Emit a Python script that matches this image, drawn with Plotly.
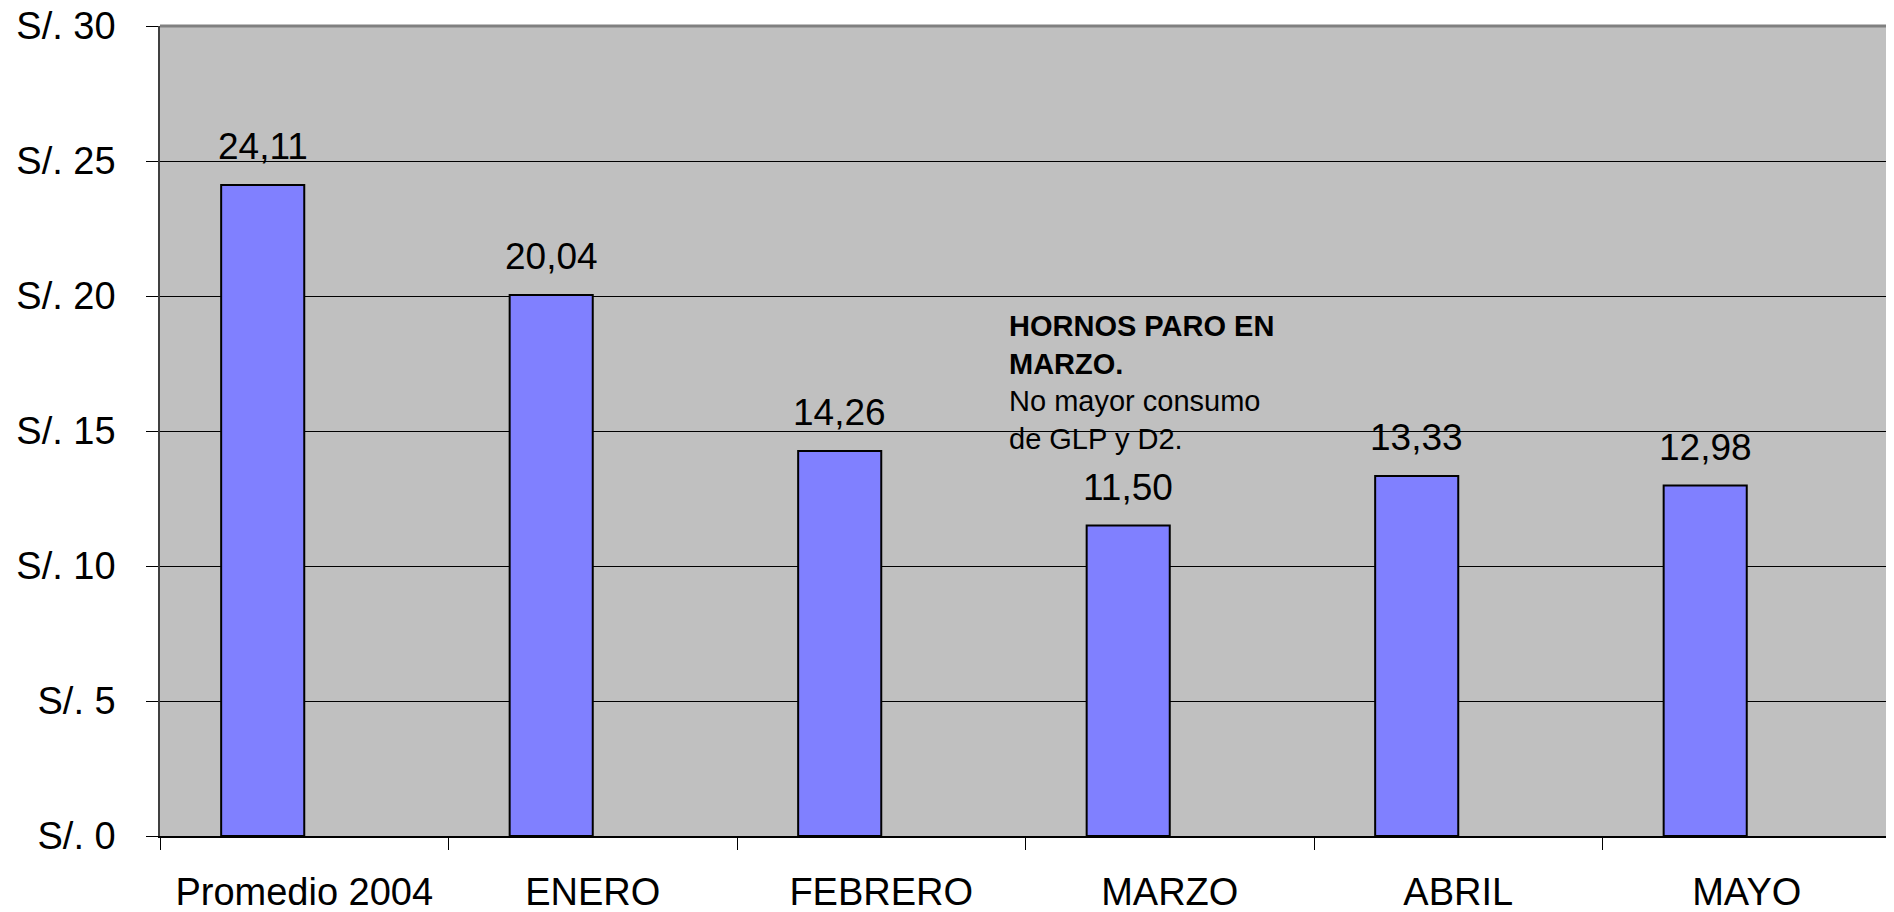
import plotly.graph_objects as go

categories = ["Promedio 2004", "ENERO", "FEBRERO", "MARZO", "ABRIL", "MAYO"]
values = [24.11, 20.04, 14.26, 11.50, 13.33, 12.98]
value_labels = ["24,11", "20,04", "14,26", "11,50", "13,33", "12,98"]
y_ticks = [0, 5, 10, 15, 20, 25, 30]
note_text = "<b>HORNOS PARO EN<br>MARZO.</b><br>No mayor consumo<br>de GLP y D2."

FONT = "Liberation Sans, Arial, sans-serif"
BAR_W = 0.288

fig = go.Figure()
fig.add_trace(go.Bar(
    x=categories, y=values,
    width=BAR_W, offset=-BAR_W,
    marker=dict(color="#8080FF", line=dict(color="black", width=2)),
    hoverinfo="x+y",
))

annotations = []
for c, v, t in zip(categories, values, value_labels):
    annotations.append(dict(
        x=c, y=v, xref="x", yref="y", text=t, showarrow=False,
        xanchor="center", yanchor="bottom", xshift=-41.5, yshift=16,
        font=dict(family=FONT, size=37, color="black"),
    ))
annotations.append(dict(
    x=0.4893, y=0.652, xref="paper", yref="paper", text=note_text,
    showarrow=False, xanchor="left", yanchor="top", align="left",
    font=dict(family=FONT, size=29, color="black"),
))

fig.update_layout(
    width=1886, height=904,
    margin=dict(l=152, r=3, t=18, b=76),
    paper_bgcolor="white", plot_bgcolor="#C0C0C0",
    showlegend=False,
    font=dict(family=FONT, size=38, color="black"),
    annotations=annotations,
    shapes=[
        dict(type="line", xref="paper", yref="paper", x0=0, x1=1, y0=1, y1=1,
             line=dict(color="#808080", width=3), layer="above"),
        dict(type="line", xref="paper", yref="paper", x0=1, x1=1, y0=0, y1=1,
             line=dict(color="#808080", width=3), layer="above"),
    ],
    xaxis=dict(
        type="category", tickson="boundaries", ticks="outside", ticklen=12,
        tickcolor="black", tickwidth=1, showline=True, linecolor="black",
        linewidth=1.5, showgrid=False, ticklabelstandoff=22, automargin=False,
        ticklabeloverflow="allow",
        tickfont=dict(family=FONT, size=38, color="black"),
    ),
    yaxis=dict(
        range=[0, 30], tickvals=y_ticks, ticktext=[f"S/. {v}" for v in y_ticks],
        ticks="outside", ticklen=12, tickcolor="black", tickwidth=1,
        showline=True, linecolor="#404040", linewidth=1.5,
        showgrid=True, gridcolor="black", gridwidth=1, zeroline=False,
        ticklabelstandoff=23, automargin=False, ticklabeloverflow="allow",
        tickfont=dict(family=FONT, size=38, color="black"),
    ),
)

fig.write_html("out.html")
